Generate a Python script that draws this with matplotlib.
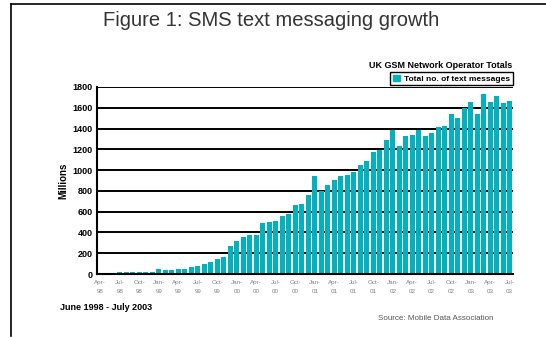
import matplotlib
matplotlib.use("Agg")
import matplotlib.pyplot as plt
from matplotlib.lines import Line2D
from matplotlib.patches import Patch
import numpy as np
import pandas as pd

plt.rcParams['font.family'] = ['Liberation Sans', 'DejaVu Sans']

# ------------------------------------------------------------
# data : monthly UK text messages (millions), Jul 1998 - Jul 2003
# ------------------------------------------------------------
months = pd.date_range("1998-04-01", "2003-07-01", freq="MS")   # axis slots Apr-98 .. Jul-03
first_bar = "1998-07-01"
messages = [20, 20, 20, 20, 20, 15,
            48, 38, 38, 48, 48, 67, 80, 96, 115, 144, 163,
            269, 317, 355, 374, 374, 490, 499, 509, 557, 576, 662,
            672, 758, 941, 803, 854, 902, 941, 950, 986, 1046, 1085, 1171,
            1197, 1293, 1382, 1229, 1325, 1334, 1382, 1325, 1354, 1411,
            1427, 1536, 1498, 1594, 1651, 1536, 1728, 1651, 1709, 1642, 1670]
y_ticks = [0, 200, 400, 600, 800, 1000, 1200, 1400, 1600, 1800]

series = pd.Series(np.nan, index=months)
series[first_bar:] = messages
tick_months = months[::3]
tick_labels = [m.strftime("%b-\n%y") for m in tick_months]

teal = "#00B2BF"

fig = plt.figure(figsize=(5.46, 3.38), dpi=100)
ax = fig.add_axes([97/546, 1-274/338, (513-97)/546, (274-87)/338])

x = np.arange(len(months))
ax.bar(x, series.values, width=0.7, color=teal, zorder=3, label="Total no. of text messages")

ax.set_xlim(-0.5, len(months) - 0.5)
ax.set_ylim(0, 1800)
ax.set_yticks(y_ticks)
ax.set_yticklabels([str(v) for v in y_ticks], fontsize=6.5, fontweight="bold")
ax.set_xticks(x[::3])
ax.set_xticklabels(tick_labels, fontsize=4.5, color="#808080", linespacing=2.0)
ax.tick_params(axis="both", length=0, pad=3)
ax.tick_params(axis="x", pad=4)

for v in y_ticks[1:]:
    ax.axhline(v, color="black", lw=1.4, zorder=1)
for s in ["top", "right"]:
    ax.spines[s].set_visible(False)
ax.spines["left"].set_linewidth(1.5)
ax.spines["bottom"].set_linewidth(1.5)
ax.spines["left"].set_zorder(4)
ax.spines["bottom"].set_zorder(4)

ax.set_ylabel("Millions", fontsize=7, fontweight="bold", labelpad=3)

# legend + subtitle
fig.text(512/546, 1-65/338, "UK GSM Network Operator Totals", ha="right", va="center",
         fontsize=6.5, fontweight="bold")
leg = fig.legend(handles=[Patch(color=teal, label="Total no. of text messages")],
                 loc="upper right", bbox_to_anchor=(513/546, 1-72/338),
                 prop={"size": 6, "weight": "bold"}, fancybox=False, framealpha=1,
                 handlelength=0.9, handleheight=0.9, handletextpad=0.5,
                 borderpad=0.3, borderaxespad=0)
leg.get_frame().set_edgecolor("black")
leg.get_frame().set_linewidth(1.0)

# title and footer texts
fig.text(271/546, 1-21/338, "Figure 1: SMS text messaging growth", ha="center", va="center",
         fontsize=14.5, color="#333333")
fig.text(60/546, 1-308/338, "June 1998 - July 2003", ha="left", va="center",
         fontsize=6.5, fontweight="bold")
fig.text(494/546, 1-318/338, "Source: Mobile Data Association", ha="right", va="center",
         fontsize=5.8, color="#555555")

# outer frame (top and left only)
fig.add_artist(Line2D([11/546, 1], [1-4/338, 1-4/338], color="black", lw=1.2))
fig.add_artist(Line2D([11/546, 11/546], [1-4/338, 1-336/338], color="black", lw=1.2))

fig.savefig("out.png", dpi=100)
